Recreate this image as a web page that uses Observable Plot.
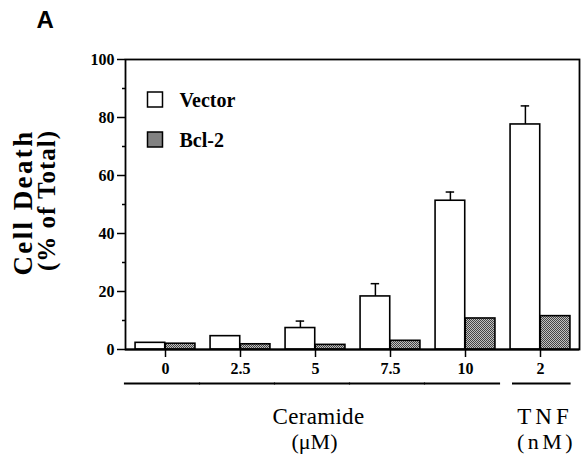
<!DOCTYPE html>
<html>
<head>
<meta charset="utf-8">
<script src="https://cdn.jsdelivr.net/npm/d3@7"></script>
<script src="https://cdn.jsdelivr.net/npm/@observablehq/plot@0.6"></script>
<style>
  html, body { margin: 0; padding: 0; background: #fff; }
</style>
</head>
<body>
<div id="chart"></div>
<script>
// ---- data ----
const groups = ["0", "2.5", "5", "7.5", "10", "2"];
const ceramideGroups = ["0", "2.5", "5", "7.5", "10"];
const tnfGroups = ["2"];
const vectorValues = [2.3, 4.6, 7.4, 18.3, 51.3, 77.6];
const vectorErrors = [0, 0, 2.4, 4.4, 3.0, 6.4];
const bcl2Values = [2.0, 1.8, 1.6, 3.0, 10.7, 11.5];
const series = ["Vector", "Bcl-2"];
const yTicks = [0, 20, 40, 60, 80, 100];
const yMinorTicks = [10, 30, 50, 70, 90];
const groupLabels = [
  {group: "5", line1: "Ceramide", line2: "(\u03bcM)"},
  {group: "2", line1: "TNF", line2: "(nM)"}
];
const yTitle = ["Cell Death", "(% of Total)"];

const vectorData = groups.map((g, i) => ({group: g, value: vectorValues[i], err: vectorErrors[i]}));
const bclData = groups.map((g, i) => ({group: g, value: bcl2Values[i]}));
const vectorErrData = vectorData.filter(d => d.err > 0);

// ---- layout ----
const W = 584, H = 454;
const mL = 125, mR = 5, mT = 59, mB = 105;
const pad = 0.2;
const step = (W - mL - mR) / groups.length;
const bw = step * (1 - pad);
const half = bw / 2;
const gap = step * pad / 2;
const barW = 30.2;
const serif = "'Liberation Serif', 'Times New Roman', serif";

const chart = Plot.plot({
  width: W,
  height: H,
  marginLeft: mL,
  marginRight: mR,
  marginTop: mT,
  marginBottom: mB,
  style: {fontFamily: serif, fontWeight: "bold", fontSize: "16px", color: "black", background: "white"},
  x: {domain: groups, paddingInner: pad, paddingOuter: pad / 2, axis: null},
  y: {domain: [0, 100], axis: null},
  marks: [
    Plot.frame({stroke: "black", strokeWidth: 1.8}),
    // bars
    Plot.barY(vectorData, {x: "group", y: "value", fill: "white", stroke: "black", strokeWidth: 1.6,
      insetLeft: half - barW, insetRight: half}),
    Plot.barY(bclData, {x: "group", y: "value", fill: "url(#bclpat)", stroke: "black", strokeWidth: 1.6,
      insetLeft: half, insetRight: half - barW}),
    // error bars
    Plot.ruleX(vectorErrData, {x: "group", y1: "value", y2: d => d.value + d.err, dx: -barW / 2, stroke: "black", strokeWidth: 1.5}),
    Plot.tickY(vectorErrData, {x: "group", y: d => d.value + d.err, stroke: "black", strokeWidth: 1.5,
      insetLeft: half - barW / 2 - 4.5, insetRight: half + barW / 2 - 4.5}),
    Plot.ruleY([0], {stroke: "black", strokeWidth: 2}),
    // axes
    Plot.axisY(yTicks, {tickSize: 8, tickPadding: 3, strokeWidth: 1.5, label: null, fontSize: 16}),
    Plot.axisY(yMinorTicks, {tickSize: 3, strokeWidth: 1.5, tickFormat: () => "", label: null}),
    Plot.axisX({tickSize: 8, tickPadding: 5, strokeWidth: 1.5, label: null, fontSize: 16}),
    // group underlines
    Plot.tickY(ceramideGroups, {x: d => d, y: () => 0, dy: 34, dx: -3, stroke: "black", strokeWidth: 2,
      insetLeft: -gap - 0.5, insetRight: -gap - 0.5}),
    Plot.tickY(tnfGroups, {x: d => d, y: () => 0, dy: 34, stroke: "black", strokeWidth: 2,
      insetLeft: 2, insetRight: -0.6}),
    // group labels
    Plot.text(groupLabels.slice(0, 1), {x: "group", text: "line1", frameAnchor: "bottom", dy: 74, dx: 3,
      lineAnchor: "bottom", fontSize: 23, fontWeight: "normal"}),
    Plot.text(groupLabels.slice(0, 1), {x: "group", text: "line2", frameAnchor: "bottom", dy: 99, dx: -1,
      lineAnchor: "bottom", fontSize: 22, fontWeight: "normal"}),
    Plot.text(groupLabels.slice(1), {x: "group", text: "line1", frameAnchor: "bottom", dy: 74, dx: 4.5,
      lineAnchor: "bottom", fontSize: 23, fontWeight: "normal"}),
    Plot.text(groupLabels.slice(1), {x: "group", text: "line2", frameAnchor: "bottom", dy: 99, dx: 6,
      lineAnchor: "bottom", fontSize: 22, fontWeight: "normal"}),
    // y axis title
    Plot.text(yTitle.slice(0, 1), {frameAnchor: "left", rotate: -90, dx: -94, dy: -2, textAnchor: "middle",
      lineAnchor: "bottom", fontSize: 27, fontWeight: "bold"}),
    Plot.text(yTitle.slice(1), {frameAnchor: "left", rotate: -90, dx: -71, dy: -4, textAnchor: "middle",
      lineAnchor: "bottom", fontSize: 25, fontWeight: "bold"}),
    // legend
    Plot.dot(series.slice(0, 1), {frameAnchor: "top-left", dx: 29.5, dy: 40, symbol: "square", r: 8.46,
      fill: "white", stroke: "black", strokeWidth: 1.5}),
    Plot.dot(series.slice(1), {frameAnchor: "top-left", dx: 29.5, dy: 80, symbol: "square", r: 8.46,
      fill: "url(#bclpat)", stroke: "black", strokeWidth: 1.5}),
    Plot.text(series.slice(0, 1), {frameAnchor: "top-left", dx: 54, dy: 47, textAnchor: "start",
      lineAnchor: "bottom", fontSize: 20, fontWeight: "bold"}),
    Plot.text(series.slice(1), {frameAnchor: "top-left", dx: 54, dy: 87, textAnchor: "start",
      lineAnchor: "bottom", fontSize: 20, fontWeight: "bold"}),
    // panel letter
    Plot.text(["A"], {frameAnchor: "top-left", dx: -89, dy: -32, textAnchor: "start", lineAnchor: "bottom",
      fontSize: 24, fontWeight: "bold", fontFamily: "'Liberation Sans', Arial, sans-serif"})
  ]
});

const svg = d3.select(chart);
// letter spacing for a few labels
const spacing = {"TNF": "4px", "(nM)": "3.5px", "Cell Death": "2.4px", "(% of Total)": "1px", "Ceramide": "0.3px"};
svg.selectAll("text").each(function () {
  const s = spacing[this.textContent];
  if (s) d3.select(this).style("letter-spacing", s);
});

// pattern for the Bcl-2 bars
const defs = svg.insert("defs", ":first-child");
const pat = defs.append("pattern").attr("id", "bclpat").attr("patternUnits", "userSpaceOnUse")
  .attr("width", 2).attr("height", 2);
pat.append("rect").attr("width", 2).attr("height", 2).attr("fill", "#c0c0c0");
pat.append("rect").attr("x", 0).attr("y", 0).attr("width", 1).attr("height", 1).attr("fill", "#444");
pat.append("rect").attr("x", 1).attr("y", 1).attr("width", 1).attr("height", 1).attr("fill", "#444");

document.getElementById("chart").appendChild(chart);
</script>
</body>
</html>
